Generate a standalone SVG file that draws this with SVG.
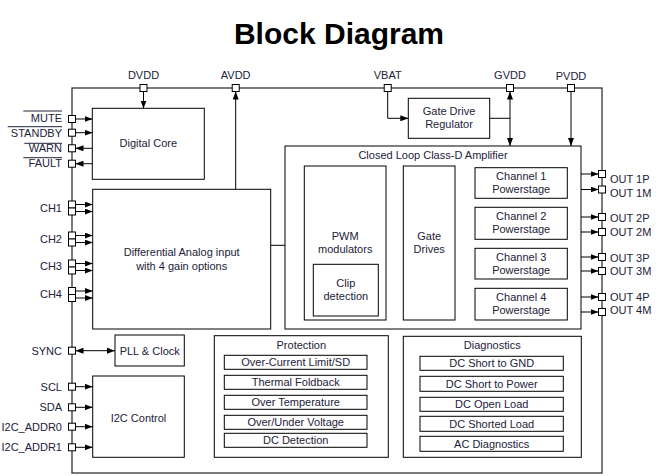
<svg xmlns="http://www.w3.org/2000/svg" width="659" height="476" viewBox="0 0 659 476">
<style>
text{font-family:"Liberation Sans",Arial,sans-serif;font-size:11px;fill:#22223a}
.c{text-anchor:middle}
.e{text-anchor:end}
.b{fill:#fff;stroke:#000;stroke-width:1}
.pin{fill:#fff;stroke:#000;stroke-width:1}
.ln{fill:none;stroke:#000;stroke-width:1}
.ar{fill:none;stroke:#000;stroke-width:1;marker-end:url(#a)}
.da{fill:none;stroke:#000;stroke-width:1;marker-start:url(#a);marker-end:url(#a)}
.ol{stroke:#22223a;stroke-width:1}
</style>
<defs>
<marker id="a" viewBox="0 0 8 6" refX="8" refY="3" markerWidth="8" markerHeight="6" markerUnits="userSpaceOnUse" orient="auto-start-reverse"><path d="M0,0 L8,3 L0,6 z" fill="#000"/></marker>
</defs>
<rect width="659" height="476" fill="#fff"/>
<text x="339" y="44" class="c" style="font-size:30px;font-weight:bold;fill:#000">Block Diagram</text>

<g id="chip"><rect x="72" y="88" width="530" height="385" fill="none" stroke="#333" stroke-width="1.3"/></g>

<g id="connectors">
<line class="ar" x1="143.5" y1="92" x2="143.5" y2="108.5"/>
<line class="ar" x1="75.5" y1="119" x2="92.5" y2="119"/>
<line class="ar" x1="75.5" y1="132.7" x2="92.5" y2="132.7"/>
<line class="ar" x1="92.5" y1="148.3" x2="75.5" y2="148.3"/>
<line class="ar" x1="92.5" y1="163.7" x2="75.5" y2="163.7"/>
<line class="ar" x1="235.7" y1="189.3" x2="235.7" y2="91.5"/>
<path class="ar" d="M387.7,91.5 V118.3 H408.3"/>
<line class="ln" x1="489.7" y1="118.3" x2="510" y2="118.3"/>
<line class="da" x1="510" y1="91.5" x2="510" y2="146"/>
<line class="ar" x1="571" y1="91.5" x2="571" y2="146"/>
<line class="ar" x1="75.5" y1="204.5" x2="92.7" y2="204.5"/>
<line class="ar" x1="75.5" y1="211.5" x2="92.7" y2="211.5"/>
<line class="ar" x1="75.5" y1="235.5" x2="92.7" y2="235.5"/>
<line class="ar" x1="75.5" y1="242.5" x2="92.7" y2="242.5"/>
<line class="ar" x1="75.5" y1="263.5" x2="92.7" y2="263.5"/>
<line class="ar" x1="75.5" y1="270.5" x2="92.7" y2="270.5"/>
<line class="ar" x1="75.5" y1="291" x2="92.7" y2="291"/>
<line class="ar" x1="75.5" y1="298" x2="92.7" y2="298"/>
<line class="ar" x1="270.7" y1="245.3" x2="304.3" y2="245.3"/>
<line class="ar" x1="386" y1="244.5" x2="403.3" y2="244.5"/>
<line class="ar" x1="455" y1="182.3" x2="475" y2="182.3"/>
<line class="ar" x1="455" y1="221.7" x2="475" y2="221.7"/>
<line class="ar" x1="455" y1="263.3" x2="475" y2="263.3"/>
<line class="ar" x1="455" y1="301" x2="475" y2="301"/>
<line class="ar" x1="567.3" y1="174" x2="598.5" y2="174"/>
<line class="ar" x1="567.3" y1="189.5" x2="598.5" y2="189.5"/>
<line class="ar" x1="567.3" y1="217" x2="598.5" y2="217"/>
<line class="ar" x1="567.3" y1="232" x2="598.5" y2="232"/>
<line class="ar" x1="567.3" y1="257" x2="598.5" y2="257"/>
<line class="ar" x1="567.3" y1="271" x2="598.5" y2="271"/>
<line class="ar" x1="567.3" y1="297" x2="598.5" y2="297"/>
<line class="ar" x1="567.3" y1="312" x2="598.5" y2="312"/>
<line class="da" x1="75.5" y1="350.7" x2="115" y2="350.7"/>
<line class="ar" x1="75.5" y1="386.7" x2="92.7" y2="386.7"/>
<line class="ar" x1="75.5" y1="407.3" x2="92.7" y2="407.3"/>
<line class="ar" x1="75.5" y1="426.7" x2="92.7" y2="426.7"/>
<line class="ar" x1="75.5" y1="447.3" x2="92.7" y2="447.3"/>
</g>

<g id="pins">
<rect class="pin" x="140" y="84.5" width="7" height="7"/>
<rect class="pin" x="232.2" y="84.5" width="7" height="7"/>
<rect class="pin" x="384.2" y="84.5" width="7" height="7"/>
<rect class="pin" x="506.5" y="84.5" width="7" height="7"/>
<rect class="pin" x="567.5" y="84.5" width="7" height="7"/>
<rect class="pin" x="68.5" y="115.5" width="7" height="7"/>
<rect class="pin" x="68.5" y="129.2" width="7" height="7"/>
<rect class="pin" x="68.5" y="144.8" width="7" height="7"/>
<rect class="pin" x="68.5" y="160.2" width="7" height="7"/>
<rect class="pin" x="68.5" y="201" width="7" height="7"/>
<rect class="pin" x="68.5" y="208" width="7" height="7"/>
<rect class="pin" x="68.5" y="232" width="7" height="7"/>
<rect class="pin" x="68.5" y="239" width="7" height="7"/>
<rect class="pin" x="68.5" y="260" width="7" height="7"/>
<rect class="pin" x="68.5" y="267" width="7" height="7"/>
<rect class="pin" x="68.5" y="287.5" width="7" height="7"/>
<rect class="pin" x="68.5" y="294.5" width="7" height="7"/>
<rect class="pin" x="68.5" y="347.2" width="7" height="7"/>
<rect class="pin" x="68.5" y="383.2" width="7" height="7"/>
<rect class="pin" x="68.5" y="403.8" width="7" height="7"/>
<rect class="pin" x="68.5" y="423.2" width="7" height="7"/>
<rect class="pin" x="68.5" y="443.8" width="7" height="7"/>
<rect class="pin" x="598.5" y="170.5" width="7" height="7"/>
<rect class="pin" x="598.5" y="186" width="7" height="7"/>
<rect class="pin" x="598.5" y="213.5" width="7" height="7"/>
<rect class="pin" x="598.5" y="228.5" width="7" height="7"/>
<rect class="pin" x="598.5" y="253.5" width="7" height="7"/>
<rect class="pin" x="598.5" y="267.5" width="7" height="7"/>
<rect class="pin" x="598.5" y="293.5" width="7" height="7"/>
<rect class="pin" x="598.5" y="308.5" width="7" height="7"/>
</g>

<g id="pin-labels">
<text x="143.5" y="78.5" class="c">DVDD</text>
<text x="235.7" y="79" class="c">AVDD</text>
<text x="387.7" y="79" class="c">VBAT</text>
<text x="510" y="79" class="c">GVDD</text>
<text x="571" y="80" class="c">PVDD</text>
<text x="62" y="122" class="e">MUTE</text>
<text x="62" y="136.7" class="e">STANDBY</text>
<text x="62" y="152.3" class="e">WARN</text>
<text x="62" y="167.3" class="e">FAULT</text>
<line class="ol" x1="23.3" y1="111" x2="62" y2="111"/>
<line class="ol" x1="7.7" y1="126.7" x2="62" y2="126.7"/>
<line class="ol" x1="24.3" y1="143.3" x2="62" y2="143.3"/>
<line class="ol" x1="23.3" y1="157.7" x2="62" y2="157.7"/>
<text x="62" y="212" class="e">CH1</text>
<text x="62" y="242.5" class="e">CH2</text>
<text x="62" y="270" class="e">CH3</text>
<text x="62" y="298" class="e">CH4</text>
<text x="62" y="354.5" class="e">SYNC</text>
<text x="62" y="390.5" class="e">SCL</text>
<text x="62" y="411" class="e">SDA</text>
<text x="62" y="430.5" class="e">I2C_ADDR0</text>
<text x="62" y="451" class="e">I2C_ADDR1</text>
<text x="610" y="183">OUT 1P</text>
<text x="610" y="197">OUT 1M</text>
<text x="610" y="221.5">OUT 2P</text>
<text x="610" y="236">OUT 2M</text>
<text x="610" y="261.5">OUT 3P</text>
<text x="610" y="275">OUT 3M</text>
<text x="610" y="300.5">OUT 4P</text>
<text x="610" y="314">OUT 4M</text>
</g>

<g id="digital-core"><rect class="b" x="92.3" y="108.3" width="112" height="71"/><text x="148.3" y="146.5" class="c">Digital Core</text></g>
<g id="gate-drive-regulator"><rect class="b" x="408.3" y="98.3" width="81.4" height="40"/><text x="449" y="115" class="c">Gate Drive</text><text x="449" y="127.5" class="c">Regulator</text></g>
<g id="differential-input"><rect class="b" x="92.7" y="189.3" width="178" height="139.7"/><text x="181.7" y="256.2" class="c">Differential Analog input</text><text x="181.7" y="269.5" class="c">with 4 gain options</text></g>
<g id="class-d-amplifier"><rect class="b" x="285" y="146" width="296" height="183"/><text x="433" y="158.5" class="c">Closed Loop Class-D Amplifier</text></g>
<g id="pwm-modulators"><rect class="b" x="304.3" y="166" width="81.7" height="154"/><text x="345.2" y="240" class="c">PWM</text><text x="345.2" y="253" class="c">modulators</text></g>
<g id="clip-detection"><rect class="b" x="313.3" y="264.3" width="65" height="51.7"/><text x="345.8" y="286.5" class="c">Clip</text><text x="345.8" y="300" class="c">detection</text></g>
<g id="gate-drives"><rect class="b" x="403.3" y="166" width="51.7" height="154"/><text x="429.2" y="240" class="c">Gate</text><text x="429.2" y="253" class="c">Drives</text></g>
<g id="channel-1"><rect class="b" x="475" y="167.7" width="92.3" height="30.6"/><text x="521.2" y="180" class="c">Channel 1</text><text x="521.2" y="193" class="c">Powerstage</text></g>
<g id="channel-2"><rect class="b" x="475" y="207.3" width="92.3" height="32"/><text x="521.2" y="220" class="c">Channel 2</text><text x="521.2" y="233" class="c">Powerstage</text></g>
<g id="channel-3"><rect class="b" x="475" y="248.3" width="92.3" height="30.7"/><text x="521.2" y="260.5" class="c">Channel 3</text><text x="521.2" y="273.5" class="c">Powerstage</text></g>
<g id="channel-4"><rect class="b" x="475" y="288.3" width="92.3" height="31.7"/><text x="521.2" y="300.5" class="c">Channel 4</text><text x="521.2" y="313.5" class="c">Powerstage</text></g>
<g id="pll-clock"><rect class="b" x="115" y="335" width="69.3" height="31"/><text x="149.7" y="354.5" class="c">PLL &amp; Clock</text></g>
<g id="i2c-control"><rect class="b" x="92.7" y="376" width="91.6" height="81.3"/><text x="138.5" y="421.5" class="c">I2C Control</text></g>
<g id="protection"><rect class="b" x="214.3" y="335.7" width="174" height="121.6"/><text x="301.3" y="349" class="c">Protection</text>
<rect class="b" x="224.3" y="355.3" width="142.7" height="14"/><text x="295.7" y="366.3" class="c">Over-Current Limit/SD</text>
<rect class="b" x="224.3" y="375.3" width="142.7" height="14"/><text x="295.7" y="386.3" class="c">Thermal Foldback</text>
<rect class="b" x="224.3" y="395.3" width="142.7" height="14"/><text x="295.7" y="406.3" class="c">Over Temperature</text>
<rect class="b" x="224.3" y="415.3" width="142.7" height="14"/><text x="295.7" y="426.3" class="c">Over/Under Voltage</text>
<rect class="b" x="224.3" y="433.3" width="142.7" height="14"/><text x="295.7" y="444.3" class="c">DC Detection</text></g>
<g id="diagnostics"><rect class="b" x="403.3" y="336.3" width="178" height="121"/><text x="492.3" y="349" class="c">Diagnostics</text>
<rect class="b" x="420" y="356.3" width="143.3" height="14"/><text x="491.7" y="367.3" class="c">DC Short to GND</text>
<rect class="b" x="420" y="376.3" width="143.3" height="15"/><text x="491.7" y="387.8" class="c">DC Short to Power</text>
<rect class="b" x="420" y="397.3" width="143.3" height="14"/><text x="491.7" y="408.3" class="c">DC Open Load</text>
<rect class="b" x="420" y="416.3" width="143.3" height="15"/><text x="491.7" y="427.8" class="c">DC Shorted Load</text>
<rect class="b" x="420" y="436.3" width="143.3" height="15"/><text x="491.7" y="447.8" class="c">AC Diagnostics</text></g>
</svg>
